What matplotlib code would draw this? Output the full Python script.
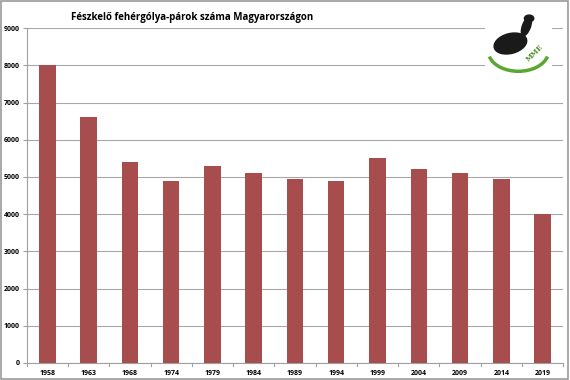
import matplotlib
matplotlib.use('Agg')
import matplotlib.pyplot as plt
from matplotlib.patches import Rectangle, Arc, Ellipse

# Fészkelő fehérgólya-párok száma (nesting white stork pairs, Hungary)
years = ['1958', '1963', '1968', '1974', '1979', '1984', '1989',
         '1994', '1999', '2004', '2009', '2014', '2019']
pairs = [8000, 6600, 5400, 4900, 5300, 5100, 4950,
         4900, 5500, 5200, 5100, 4950, 4000]
yticks = [0, 1000, 2000, 3000, 4000, 5000, 6000, 7000, 8000, 9000]

plt.rcParams['font.family'] = ['Open Sans', 'DejaVu Sans']

fig = plt.figure(figsize=(5.7, 3.8), dpi=100)
ax = fig.add_axes([0.047, 0.045, 0.941, 0.881])

ax.bar(range(len(years)), pairs, width=0.4, color='#A84D4D', zorder=3)
ax.set_xlim(-0.5, len(years) - 0.5)
ax.set_ylim(0, 9000)
ax.set_yticks(yticks)
ax.set_yticklabels([str(v) for v in yticks], fontsize=5, fontweight='bold')
ax.set_xticks(range(len(years)))
ax.set_xticklabels(years, fontsize=5, fontweight='bold')
ax.grid(axis='y', color='#A8A8A8', linewidth=0.8, zorder=0)

for s in ['top', 'right']:
    ax.spines[s].set_visible(False)
ax.spines['left'].set_color('#A0A0A0')
ax.spines['bottom'].set_color('#A0A0A0')
ax.tick_params(axis='y', length=3, color='#A0A0A0', pad=2)
ax.tick_params(axis='x', length=0, pad=5)
# category separator ticks on the x axis
for i in range(len(years) + 1):
    ax.plot([i - 0.5, i - 0.5], [0, -90], color='#A0A0A0', lw=0.8,
            clip_on=False, zorder=4)

fig.text(0.337, 0.953, 'Fészkelő fehérgólya-párok száma Magyarországon',
         ha='center', va='center', fontsize=7, fontweight='bold')

# rough stand-in for the MME logo (white box hides the grid behind it)
logo = fig.add_axes([0.851, 0.795, 0.117, 0.174])
logo.set_xlim(0, 1)
logo.set_ylim(0, 1)
logo.set_xticks([])
logo.set_yticks([])
for s in logo.spines.values():
    s.set_visible(False)
logo.set_facecolor('white')
logo.add_patch(Arc((0.5, 0.4), 0.9, 0.6, theta1=190, theta2=350,
                   color='#5AA832', lw=2.5))
logo.add_patch(Ellipse((0.38, 0.52), 0.5, 0.3, angle=15, color='#1A1A1A'))
logo.add_patch(Ellipse((0.62, 0.78), 0.12, 0.3, angle=-20, color='#1A1A1A'))
logo.add_patch(Ellipse((0.66, 0.9), 0.14, 0.1, color='#1A1A1A'))
logo.text(0.75, 0.38, 'MME', fontsize=5, color='#4C8F2A', rotation=45,
          ha='center', va='center', family='DejaVu Serif', fontweight='bold')

# figure border
fig.patches.append(Rectangle((0.002, 0.003), 0.995, 0.994, transform=fig.transFigure,
                             fill=False, edgecolor='#9A9A9A', linewidth=1.2))

fig.savefig('out.png', dpi=100)
